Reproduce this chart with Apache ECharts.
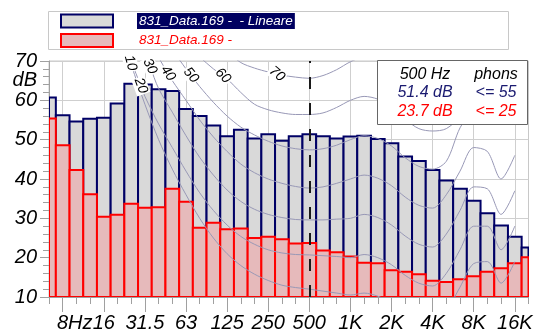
<!DOCTYPE html>
<html>
<head>
<meta charset="utf-8">
<script src="https://cdn.jsdelivr.net/npm/echarts@6/dist/echarts.min.js"></script>
<style>html,body{margin:0;padding:0;background:#fff}#c{width:534px;height:335px}</style>
</head>
<body>
<div id="c"></div>
<script>
// 1/3-octave bands (index 0 .. 35)
const bands = ['6.3','8','10','12.5','16','20','25','31.5','40','50','63','80','100','125','160','200','250','315','400','500','630','800','1K','1.25K','1.6K','2K','2.5K','3.15K','4K','5K','6.3K','8K','10K','12.5K','16K','20K'];
const lineare = [60.7,56.2,54.6,55.3,55.6,59.2,64.2,64.0,62.8,62.4,57.8,56.0,53.6,50.9,52.5,50.3,51.4,49.7,50.9,51.4,50.9,50.3,50.8,51.0,50.2,49.1,45.7,44.6,42.3,39.6,37.5,34.5,31.3,28.2,25.3,22.6];
const weighted = [55.4,48.6,42.3,36.1,30.4,30.9,33.7,32.7,32.8,37.5,34.2,27.6,28.9,27.2,27.4,25.0,25.3,24.7,23.6,23.7,21.8,21.4,20.3,18.7,18.6,16.8,16.4,15.8,14.1,13.8,14.5,15.3,16.4,17.3,18.6,20.1];
const tickIdx = [1,4,7,10,13,16,19,22,25,28,31,34];
const tickLabels = ['8Hz','16','31.5','63','125','250','500','1K','2K','4K','8K','16K'];
const cursorIdx = 19;          // 500 Hz
const phonLineare = 55, phonWeighted = 25;

// equal-loudness contours (dB per band, null = not drawn)
const N = null;
const c10 = [N,N,N,N,90,79,69,59,50,42.5,36,30,25,21,18,15.8,14.2,13,12.4,12,11.5,11,10.5,11,10.2,8.5,6,4,3.5,6.5,12.5,18.5,19,13.5,19,N];
const c20 = [N,N,N,N,N,80,70,61,54,48,42,36.5,32,28.3,25.4,23.4,22,21.2,20.8,20.7,20.5,20.3,20,20.8,20,18.2,15.5,13.5,12.8,16,22,28,28,22,28,N];
const c30 = [N,N,N,N,N,N,82,72,63,57,51,45.5,41,37.2,34.3,32.3,31,30.2,29.7,29.6,29.6,29.8,30,31,30.2,28.3,25.5,23.4,22.7,26,32,38,37.5,31,37,N];
const c40 = [N,N,N,N,N,N,N,80,71,65,60,55,50.7,47,43.8,41.6,40,38.9,38.1,37.7,38,38.9,40,41,40.2,38.3,35.4,33.3,32.6,36,42,48,47,40,46,N];
const c50 = [N,N,N,N,N,N,N,N,80,73,68,63.5,59.5,56,53.2,51.2,49.6,48.4,47.7,47.4,47.7,48.6,50,51,50.3,48.4,45.4,43.2,42.5,44.5,53,58,62,60,66,N];
const c60 = [N,N,N,N,N,N,N,N,N,78,74,71,68,65.5,62,59,57.6,56.8,56.4,56.4,56.8,58.2,60,61,60.3,58.3,55.2,52.8,52.2,52.8,56,63,68,70,75,N];
const c70 = [N,N,N,N,N,N,N,N,N,N,N,80,76.5,72.5,69.6,68.2,67.2,66.4,65.9,65.6,66.3,67.8,69.8,71,70.5,68.5,65.5,63,62.3,64,69,75,80,N,N,N];
const contours = [c10,c20,c30,c40,c50,c60,c70];
const phons = [10,20,30,40,50,60,70];
// band position (fractional) of each contour's label along the curve
const phonLabelAt = [5.95,6.7,7.37,8.69,10.36,12.7,16.64];
const phonLabelRot = [-75,-70,-64,-55,-50,-45,-40];

const N1 = '831_Data.169 -  - Lineare';
const N2 = '831_Data.169 -';
const FONT = 'Liberation Sans';
const NAVY = '#000066';
const RED = '#ff0000';
const IFONT = 'italic 16px "Liberation Sans"';

function barRender(fill, stroke) {
  return function (params, api) {
    const i = api.value(0), v = api.value(1);
    const p0 = api.coord([i - 0.5, v]);
    const p1 = api.coord([i + 0.5, 10]);
    const cs = params.coordSys;
    const r = echarts.graphic.clipRectByRect(
      {x: p0[0], y: p0[1], width: p1[0] - p0[0], height: p1[1] - p0[1]},
      {x: cs.x, y: cs.y, width: cs.width, height: cs.height});
    if (!r) return null;
    return {type: 'rect', shape: r, style: {fill: fill, stroke: stroke, lineWidth: 2}};
  };
}

const contourSeries = contours.map((arr, k) => {
  const pts = [];
  arr.forEach((v, i) => { if (v !== null) pts.push([i, v]); });
  const at = phonLabelAt[k];
  const i0 = Math.floor(at), f = at - i0;
  const lv = arr[i0] + (arr[i0 + 1] - arr[i0]) * f;   // point on the curve
  const data = pts.map(p => p);
  const pos = data.findIndex(p => p[0] > at);
  data.splice(pos, 0, {
    value: [at, lv],
    label: {show: true, formatter: String(phons[k]), position: 'inside', rotate: phonLabelRot[k],
      fontFamily: FONT, fontStyle: 'italic', fontSize: 14, color: '#000',
      backgroundColor: '#fff', padding: [0, 1]}
  });
  return {
    type: 'line', name: 'c' + phons[k], smooth: 0.3, z: 4,
    symbol: 'circle', symbolSize: 0, showSymbol: true, showAllSymbol: true,
    silent: true, clip: true,
    lineStyle: {color: '#9898b6', width: 1},
    itemStyle: {color: 'transparent'},
    data: data
  };
});

const chart = echarts.init(document.getElementById('c'), null, {renderer: 'canvas'});
chart.setOption({
  animation: false,
  grid: {left: 49, right: 5.5, top: 61, bottom: 38, containLabel: false, outerBoundsMode: 'none',
    show: true, borderColor: '#c8c8c8', borderWidth: 1, backgroundColor: 'transparent'},
  legend: {
    orient: 'vertical', left: 60, top: 13, itemWidth: 52, itemHeight: 13, itemGap: 4, padding: 0,
    selectedMode: false, icon: 'rect',
    textStyle: {fontFamily: FONT, fontStyle: 'italic', fontSize: 13.5,
      rich: {
        pad: {width: 19},
        hl: {color: '#fff', backgroundColor: '#000060', padding: [1, 2, 1, 2], fontFamily: FONT, fontStyle: 'italic', fontSize: 13.5},
        rd: {color: RED, fontFamily: FONT, fontStyle: 'italic', fontSize: 13.5, padding: [0, 0, 0, 2]}
      }},
    formatter: name => name === N1 ? '{pad|}{hl|' + name + '}' : '{pad|}{rd|' + name + '}',
    data: [
      {name: N1, icon: 'rect', itemStyle: {color: '#d9d9d9', borderColor: NAVY, borderWidth: 2}},
      {name: N2, icon: 'rect', itemStyle: {color: '#e6babb', borderColor: RED, borderWidth: 2}}
    ]
  },
  xAxis: [
    {type: 'value', min: 0, max: 35, position: 'bottom',
      axisLine: {show: true, lineStyle: {color: '#a0a0a0'}},
      axisTick: {show: true, customValues: tickIdx, length: 15, lineStyle: {color: '#a0a0a0'}},
      axisLabel: {customValues: tickIdx, margin: 16, fontFamily: FONT, fontStyle: 'italic', fontSize: 20, color: '#000',
        formatter: v => {
          const k = tickIdx.indexOf(Math.round(v));
          if (k < 0) return '';
          return k === 0 ? '{a|' + tickLabels[k] + '}' : tickLabels[k];
        },
        rich: {a: {padding: [0, 0, 0, 24], fontFamily: FONT, fontStyle: 'italic', fontSize: 20, color: '#000'}}},
      splitLine: {show: true, lineStyle: {color: '#cfcfcf'}}},
    {type: 'value', min: 0, max: 35, position: 'bottom', offset: 0,
      axisLine: {show: false},
      axisTick: {show: true, customValues: bands.map((b, i) => i), length: 7, lineStyle: {color: '#a0a0a0'}},
      axisLabel: {show: false}, splitLine: {show: false}}
  ],
  yAxis: [
    {type: 'value', min: 10, max: 70, interval: 10,
      axisLine: {show: true, lineStyle: {color: '#a0a0a0'}},
      axisTick: {show: true, length: 9, lineStyle: {color: '#a0a0a0'}},
      minorTick: {show: true, splitNumber: 5, length: 6, lineStyle: {color: '#a0a0a0'}},
      splitLine: {show: true, lineStyle: {color: '#cfcfcf'}},
      axisLabel: {margin: 12, fontFamily: FONT, fontStyle: 'italic', fontSize: 20, color: '#000'}},
    {type: 'value', min: 10, max: 70, position: 'left', offset: 0,
      axisLine: {show: false}, axisTick: {show: false}, splitLine: {show: false},
      axisLabel: {customValues: [65], formatter: () => 'dB', margin: 12, fontFamily: FONT, fontStyle: 'italic', fontSize: 20, color: '#000'}}
  ],
  graphic: [
    {type: 'rect', z: 50, shape: {x: 48.5, y: 11.5, width: 460, height: 38}, style: {fill: 'none', stroke: '#c8c8c8', lineWidth: 1}},
    {type: 'rect', z: 100, shape: {x: 377.5, y: 60.5, width: 150, height: 64}, style: {fill: '#fff', stroke: '#666', lineWidth: 1}},
    {type: 'text', z: 101, x: 425, y: 75, style: {text: bands[cursorIdx] + ' Hz', fill: '#000', font: IFONT, align: 'center', verticalAlign: 'middle'}},
    {type: 'text', z: 101, x: 496, y: 75, style: {text: 'phons', fill: '#000', font: IFONT, align: 'center', verticalAlign: 'middle'}},
    {type: 'text', z: 101, x: 425, y: 93, style: {text: lineare[cursorIdx].toFixed(1) + ' dB', fill: '#1a1a70', font: IFONT, align: 'center', verticalAlign: 'middle'}},
    {type: 'text', z: 101, x: 496, y: 93, style: {text: '<= ' + phonLineare, fill: '#1a1a70', font: IFONT, align: 'center', verticalAlign: 'middle'}},
    {type: 'text', z: 101, x: 425, y: 112, style: {text: weighted[cursorIdx].toFixed(1) + ' dB', fill: RED, font: IFONT, align: 'center', verticalAlign: 'middle'}},
    {type: 'text', z: 101, x: 496, y: 112, style: {text: '<= ' + phonWeighted, fill: RED, font: IFONT, align: 'center', verticalAlign: 'middle'}}
  ],
  series: [
    {type: 'custom', name: N1, z: 2, renderItem: barRender('#d9d9d9', NAVY), clip: true,
      encode: {x: 0, y: 1}, data: lineare.map((v, i) => [i, v])},
    {type: 'custom', name: N2, z: 3, renderItem: barRender('#e6babb', RED), clip: true,
      encode: {x: 0, y: 1}, data: weighted.map((v, i) => [i, v]),
      markLine: {silent: true, symbol: 'none', label: {show: false}, z: 10,
        lineStyle: {color: '#1a1a1a', width: 2, type: [12, 14]},
        data: [{xAxis: cursorIdx}]}}
  ].concat(contourSeries)
});
</script>
</body>
</html>
